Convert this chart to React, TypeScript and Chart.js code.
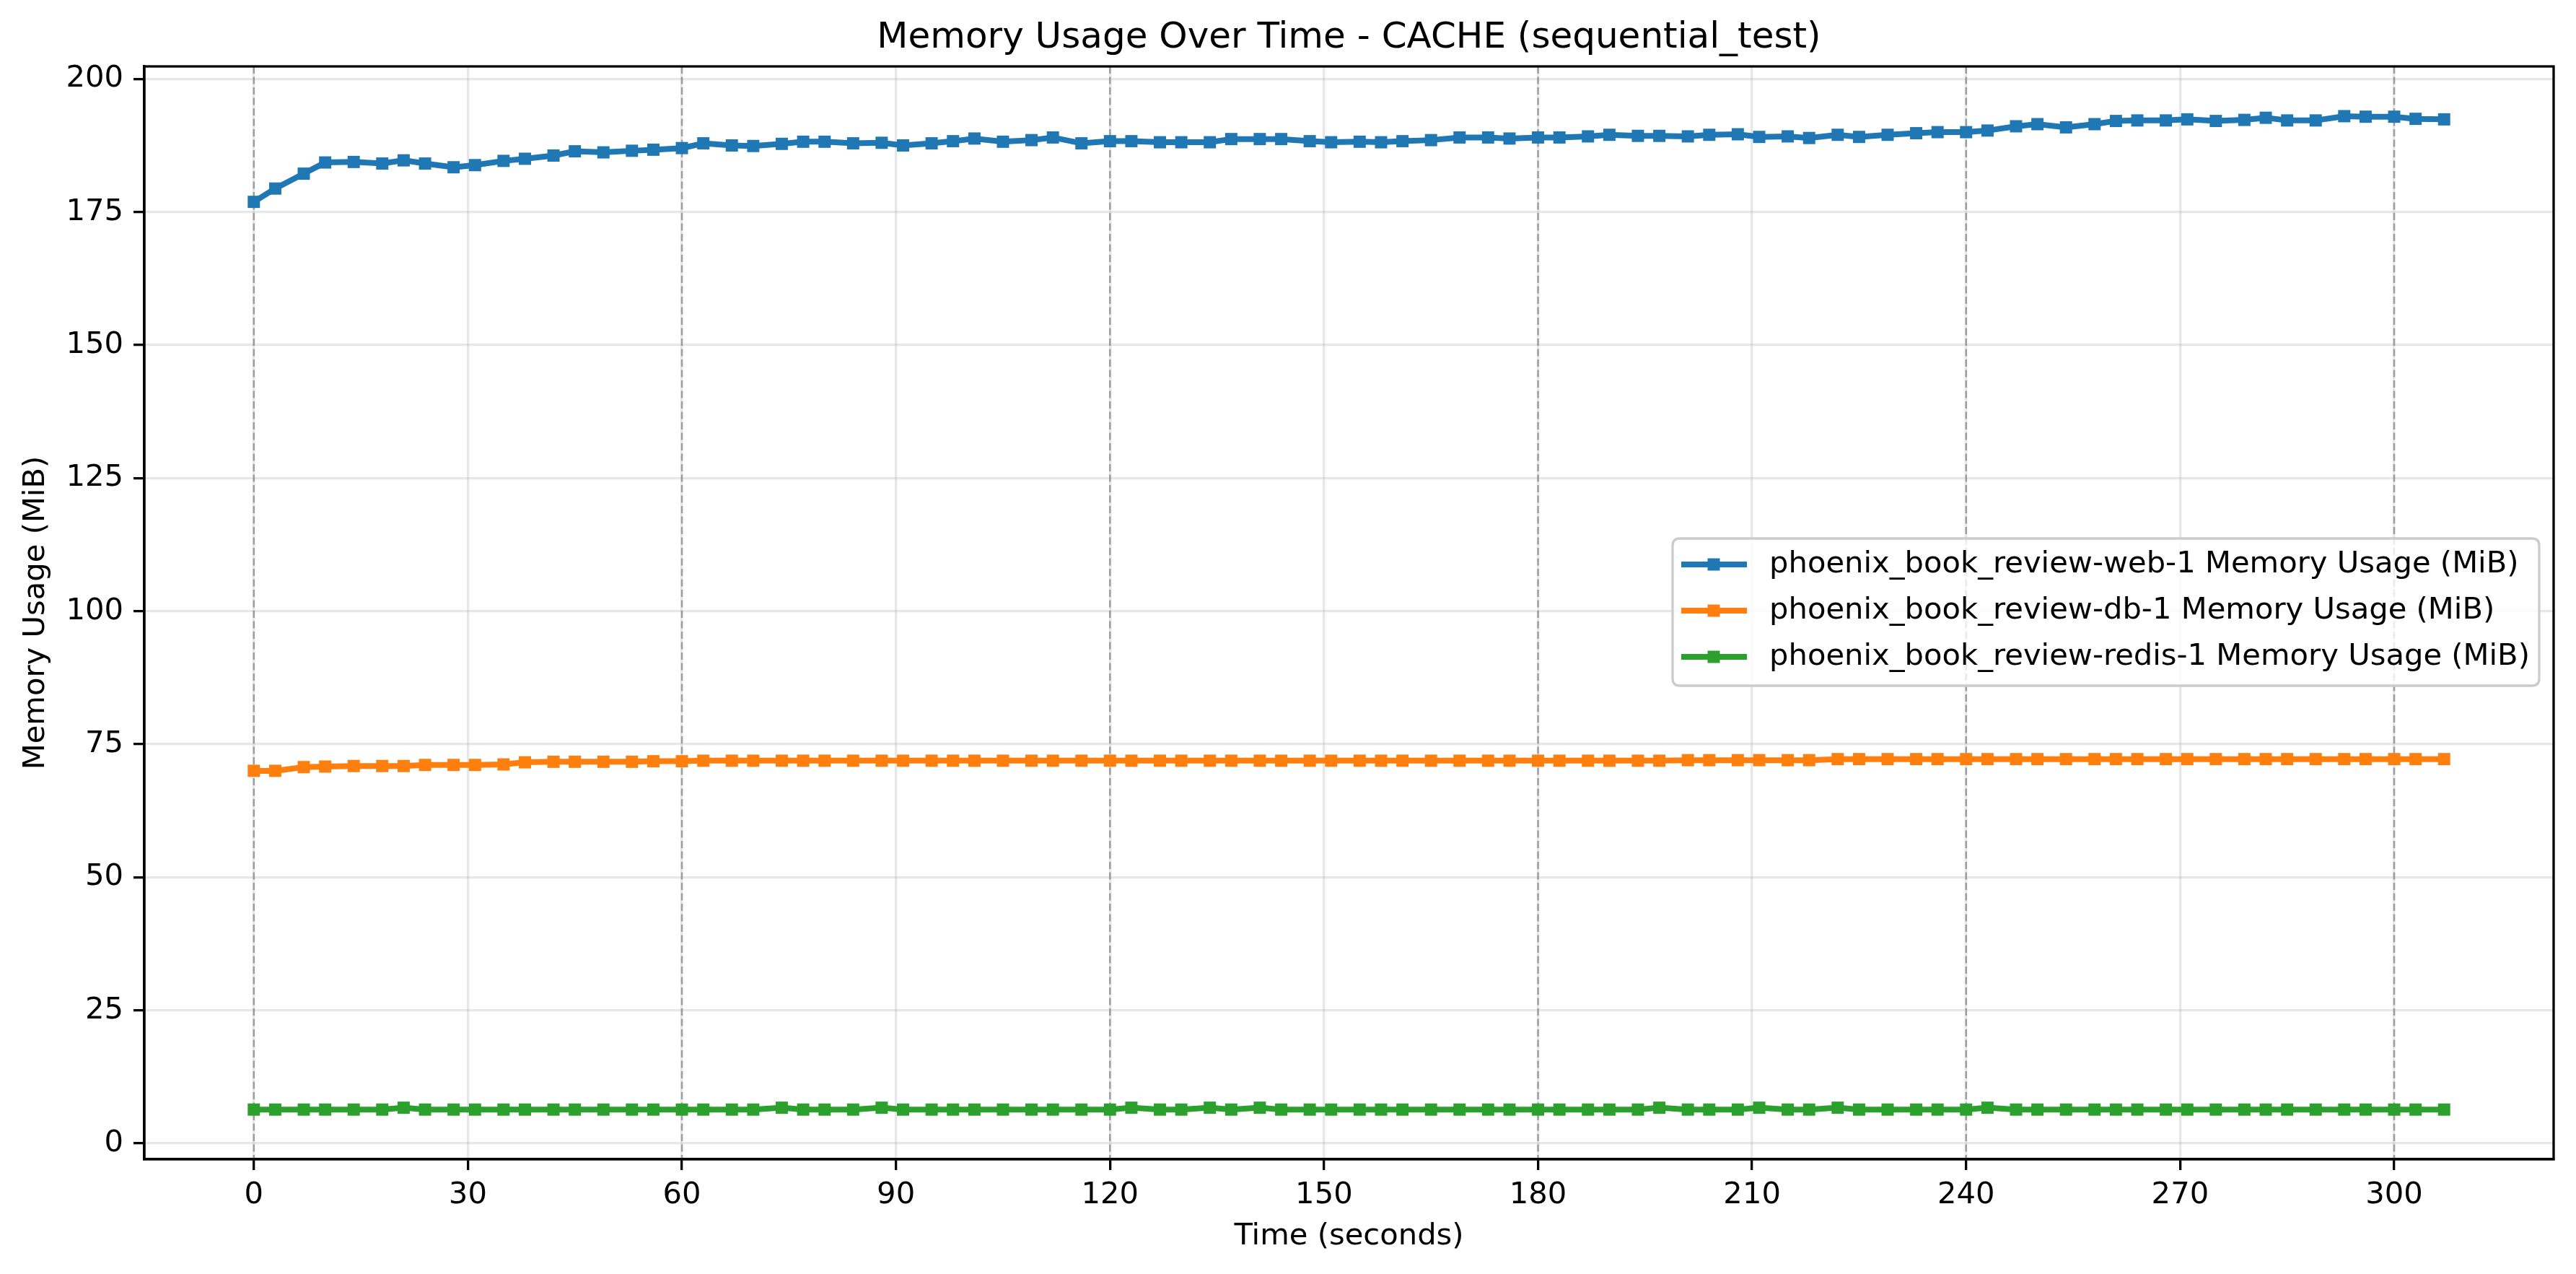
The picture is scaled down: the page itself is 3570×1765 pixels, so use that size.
import { useEffect, useRef } from 'react';
import { Chart, registerables } from 'chart.js';

Chart.register(...registerables);

const chartTitle = 'Memory Usage Over Time - CACHE (sequential_test)';
const xAxisTitle = 'Time (seconds)';
const yAxisTitle = 'Memory Usage (MiB)';

const seriesLabels = [
  'phoenix_book_review-web-1 Memory Usage (MiB)',
  'phoenix_book_review-db-1 Memory Usage (MiB)',
  'phoenix_book_review-redis-1 Memory Usage (MiB)',
];
const seriesColors = ['#1f77b4', '#ff7f0e', '#2ca02c'];

const timeSeconds = [
  0, 3, 7, 10, 14, 18, 21, 24, 28, 31,
  35, 38, 42, 45, 49, 53, 56, 60, 63, 67,
  70, 74, 77, 80, 84, 88, 91, 95, 98, 101,
  105, 109, 112, 116, 120, 123, 127, 130, 134, 137,
  141, 144, 148, 151, 155, 158, 161, 165, 169, 173,
  176, 180, 183, 187, 190, 194, 197, 201, 204, 208,
  211, 215, 218, 222, 225, 229, 233, 236, 240, 243,
  247, 250, 254, 258, 261, 264, 268, 271, 275, 279,
  282, 285, 289, 293, 296, 300, 303, 307,
];

const webMemory = [
  176.9, 179.4, 182.2, 184.3, 184.4, 184.1, 184.7, 184.1, 183.4, 183.8,
  184.6, 185.0, 185.6, 186.4, 186.2, 186.5, 186.7, 187.0, 187.9, 187.5,
  187.4, 187.8, 188.2, 188.2, 187.9, 188.0, 187.5, 187.9, 188.3, 188.8,
  188.2, 188.5, 189.0, 187.9, 188.3, 188.3, 188.1, 188.1, 188.1, 188.7,
  188.7, 188.7, 188.3, 188.1, 188.2, 188.1, 188.3, 188.5, 189.0, 189.0,
  188.8, 189.0, 189.0, 189.2, 189.5, 189.3, 189.3, 189.2, 189.5, 189.6,
  189.1, 189.2, 188.9, 189.5, 189.1, 189.5, 189.8, 190.0, 190.0, 190.3,
  191.1, 191.5, 190.9, 191.5, 192.1, 192.2, 192.2, 192.4, 192.1, 192.3,
  192.7, 192.2, 192.2, 193.0, 192.9, 192.9, 192.5, 192.4,
];

const dbMemory = [
  70.0, 70.0, 70.7, 70.8, 70.9, 70.9, 70.9, 71.1, 71.1, 71.1,
  71.2, 71.6, 71.7, 71.7, 71.7, 71.7, 71.8, 71.8, 71.9, 71.9,
  71.9, 71.9, 71.9, 71.9, 71.9, 71.9, 71.9, 71.9, 71.9, 71.9,
  71.9, 71.9, 71.9, 71.9, 71.9, 71.9, 71.9, 71.9, 71.9, 71.9,
  71.9, 71.9, 71.9, 71.9, 71.9, 71.9, 71.9, 71.9, 71.9, 71.9,
  71.9, 71.9, 71.9, 71.9, 71.9, 71.9, 71.9, 72.0, 72.0, 72.0,
  72.0, 72.0, 72.0, 72.2, 72.2, 72.2, 72.2, 72.2, 72.2, 72.2,
  72.2, 72.2, 72.2, 72.2, 72.2, 72.2, 72.2, 72.2, 72.2, 72.2,
  72.2, 72.2, 72.2, 72.2, 72.2, 72.2, 72.2, 72.2,
];

const redisMemory = [
  6.35, 6.35, 6.35, 6.35, 6.35, 6.35, 6.7, 6.35, 6.35, 6.35,
  6.35, 6.35, 6.35, 6.35, 6.35, 6.35, 6.35, 6.35, 6.35, 6.35,
  6.35, 6.7, 6.35, 6.35, 6.35, 6.7, 6.35, 6.35, 6.35, 6.35,
  6.35, 6.35, 6.35, 6.35, 6.35, 6.7, 6.35, 6.35, 6.7, 6.35,
  6.7, 6.35, 6.35, 6.35, 6.35, 6.35, 6.35, 6.35, 6.35, 6.35,
  6.35, 6.35, 6.35, 6.35, 6.35, 6.35, 6.7, 6.35, 6.35, 6.35,
  6.7, 6.35, 6.35, 6.7, 6.35, 6.35, 6.35, 6.35, 6.35, 6.7,
  6.35, 6.35, 6.35, 6.35, 6.35, 6.35, 6.35, 6.35, 6.35, 6.35,
  6.35, 6.35, 6.35, 6.35, 6.35, 6.35, 6.35, 6.35,
];

const xTicks = [0, 30, 60, 90, 120, 150, 180, 210, 240, 270, 300];
const yTicks = [0, 25, 50, 75, 100, 125, 150, 175, 200];
const markerTimes = [0, 60, 120, 180, 240, 300];

const FONT = "'DejaVu Sans', sans-serif";
const W = 3570;
const H = 1765;

export default function App() {
  const ref = useRef<HTMLCanvasElement | null>(null);

  useEffect(() => {
    document.body.style.margin = '0';
    const canvas = ref.current;
    if (!canvas) return;

    const series = [webMemory, dbMemory, redisMemory];
    const datasets = series.map((vals, i) => ({
      label: seriesLabels[i],
      data: timeSeconds.map((t, j) => ({ x: t, y: vals[j] })),
      borderColor: seriesColors[i],
      backgroundColor: seriesColors[i],
      borderWidth: 8,
      pointStyle: 'rect' as const,
      pointRadius: 12,
      pointBorderWidth: 0,
      pointBackgroundColor: seriesColors[i],
      pointBorderColor: seriesColors[i],
      tension: 0,
      fill: false,
    }));

    const decor = {
      id: 'decor',
      beforeDatasetsDraw(chart: any) {
        const { ctx, chartArea, scales } = chart;
        ctx.save();
        ctx.strokeStyle = 'rgba(128,128,128,0.7)';
        ctx.lineWidth = 2.5;
        ctx.setLineDash([10, 4.5]);
        markerTimes.forEach((t) => {
          const px = scales.x.getPixelForValue(t);
          ctx.beginPath();
          ctx.moveTo(px, chartArea.top);
          ctx.lineTo(px, chartArea.bottom);
          ctx.stroke();
        });
        ctx.restore();
      },
      afterDraw(chart: any) {
        const { ctx, chartArea } = chart;
        ctx.save();
        ctx.strokeStyle = '#000';
        ctx.lineWidth = 3.3;
        ctx.strokeRect(chartArea.left, chartArea.top, chartArea.right - chartArea.left, chartArea.bottom - chartArea.top);
        ctx.fillStyle = '#000';
        ctx.font = `50px ${FONT}`;
        ctx.textAlign = 'center';
        ctx.textBaseline = 'middle';
        ctx.fillText(chartTitle, (chartArea.left + chartArea.right) / 2, 53);
        const bx = 2318, by = 746, bw = 3519 - 2318, bh = 950 - 746, r = 10;
        ctx.beginPath();
        ctx.moveTo(bx + r, by);
        ctx.lineTo(bx + bw - r, by);
        ctx.quadraticCurveTo(bx + bw, by, bx + bw, by + r);
        ctx.lineTo(bx + bw, by + bh - r);
        ctx.quadraticCurveTo(bx + bw, by + bh, bx + bw - r, by + bh);
        ctx.lineTo(bx + r, by + bh);
        ctx.quadraticCurveTo(bx, by + bh, bx, by + bh - r);
        ctx.lineTo(bx, by + r);
        ctx.quadraticCurveTo(bx, by, bx + r, by);
        ctx.closePath();
        ctx.fillStyle = 'rgba(255,255,255,0.8)';
        ctx.fill();
        ctx.strokeStyle = '#cccccc';
        ctx.lineWidth = 3.3;
        ctx.stroke();
        const rows = [782, 846, 910];
        chart.data.datasets.forEach((ds: any, i: number) => {
          const y = rows[i];
          ctx.strokeStyle = ds.borderColor;
          ctx.lineWidth = 8;
          ctx.beginPath();
          ctx.moveTo(2330, y);
          ctx.lineTo(2421, y);
          ctx.stroke();
          ctx.fillStyle = ds.borderColor;
          ctx.fillRect(2375 - 8.5, y - 8.5, 17, 17);
          ctx.fillStyle = '#000';
          ctx.font = `41.7px ${FONT}`;
          ctx.textAlign = 'left';
          ctx.textBaseline = 'middle';
          ctx.fillText(ds.label, 2452, y);
        });
        ctx.restore();
      },
    };

    const tickFont = { family: FONT, size: 41.7 };
    const chart = new Chart(canvas, {
      type: 'line',
      data: { datasets },
      options: {
        animation: false,
        responsive: false,
        devicePixelRatio: 1,
        layout: { padding: { left: 0, top: 92, right: 31, bottom: 0 } },
        plugins: {
          legend: { display: false },
          title: { display: false },
          tooltip: { enabled: false },
        },
        scales: {
          x: {
            type: 'linear',
            min: -15.35,
            max: 322.35,
            afterBuildTicks: (axis: any) => {
              axis.ticks = xTicks.map((v) => ({ value: v }));
            },
            afterFit: (axis: any) => {
              axis.height = 159;
            },
            grid: {
              color: 'rgba(176,176,176,0.3)',
              lineWidth: 3.3,
              drawTicks: true,
              tickLength: 15,
              tickColor: '#000',
              tickWidth: 3.3,
            },
            border: { display: true, color: '#000', width: 3.3 },
            ticks: {
              font: tickFont,
              color: '#000',
              padding: 10,
              maxRotation: 0,
              autoSkip: false,
              callback: (v: any) => String(v),
            },
            title: {
              display: true,
              text: xAxisTitle,
              font: tickFont,
              color: '#000',
              padding: { top: 0, bottom: 27 },
            },
          },
          y: {
            type: 'linear',
            min: -2.98,
            max: 202.35,
            afterBuildTicks: (axis: any) => {
              axis.ticks = yTicks.map((v) => ({ value: v }));
            },
            afterFit: (axis: any) => {
              axis.width = 200;
            },
            grid: {
              color: 'rgba(176,176,176,0.3)',
              lineWidth: 3.3,
              drawTicks: true,
              tickLength: 15,
              tickColor: '#000',
              tickWidth: 3.3,
            },
            border: { display: true, color: '#000', width: 3.3 },
            ticks: {
              font: tickFont,
              color: '#000',
              padding: 14,
              autoSkip: false,
              callback: (v: any) => String(v),
            },
            title: {
              display: true,
              text: yAxisTitle,
              font: tickFont,
              color: '#000',
              padding: { top: 25, bottom: 0 },
            },
          },
        },
      },
      plugins: [decor],
    });

    return () => {
      chart.destroy();
    };
  }, []);

  return <canvas ref={ref} width={W} height={H} style={{ display: 'block', width: W, height: H }} />;
}
